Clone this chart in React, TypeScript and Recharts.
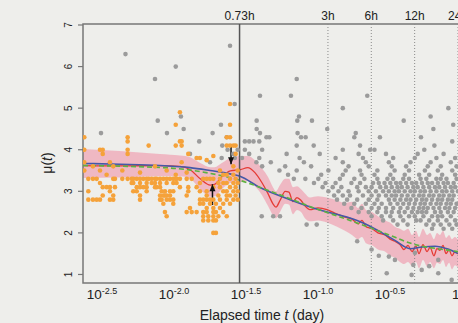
import React from 'react';
import { ComposedChart, XAxis, YAxis, Scatter, Line, Area, ReferenceLine, ReferenceArea } from 'recharts';

const X_MIN = -2.604;
const X_MAX = 0.25;
const Y_MIN = 0.795;
const Y_MAX = 7.024;

const xTicks = [-2.5, -2, -1.5, -1, -0.5, 0];
const xTickExponents = ['-2.5', '-2.0', '-1.5', '-1.0', '-0.5', '0'];
const yTicks = [1, 2, 3, 4, 5, 6, 7];
const hourMarks = [0.73, 3, 6, 12, 24];
const hourLabels = ['0.73h', '3h', '6h', '12h', '24h'];

// orange points: [log10 t, mu values...]
const orangeCols: number[][] = [
  [-2.595, 4.3, 4.0, 3.7, 3.5],
  [-2.567, 3.3, 3.0, 2.8],
  [-2.535, 2.8, 3.3, 3.6],
  [-2.509, 3.3, 2.8],
  [-2.486, 4.0, 3.2, 2.8, 3.5],
  [-2.467, 4.0, 3.9, 3.1, 2.9],
  [-2.44, 3.1, 3.4],
  [-2.417, 3.1, 3.0, 2.8, 3.7],
  [-2.394, 2.8, 2.9, 3.3, 3.6],
  [-2.382, 3.3, 3.1],
  [-2.331, 3.3, 3.5],
  [-2.294, 4.3, 4.2, 4.0, 3.9, 3.3],
  [-2.266, 3.3, 3.2],
  [-2.255, 3.3, 3.2, 3.0],
  [-2.231, 3.3, 3.1, 3.0],
  [-2.208, 3.3, 3.2, 3.1, 2.8, 2.9, 3.45],
  [-2.185, 3.3, 3.1],
  [-2.162, 3.3, 3.2, 3.1, 3.0],
  [-2.148, 4.1, 3.3],
  [-2.127, 3.3, 3.2],
  [-2.104, 3.3, 3.2, 3.1, 3.6],
  [-2.093, 3.3, 3.1],
  [-2.069, 3.3, 3.2, 3.1, 2.9, 2.8],
  [-2.058, 3.0, 2.8],
  [-2.046, 3.3, 2.7, 2.9],
  [-2.035, 3.0, 2.5, 2.9],
  [-2.023, 3.3, 3.2, 2.8, 2.4, 2.9, 3.5],
  [-2.0, 3.3, 3.0, 2.9, 2.8],
  [-1.977, 3.3, 3.2, 3.0, 2.8, 2.7],
  [-1.96, 4.6, 4.1, 3.3, 3.4],
  [-1.954, 3.3, 3.2],
  [-1.931, 4.9, 4.2, 3.3, 3.1],
  [-1.919, 4.2, 4.1, 3.7],
  [-1.884, 3.3, 2.9, 2.5, 3.45],
  [-1.873, 3.1, 3.0, 3.9],
  [-1.861, 2.6],
  [-1.849, 2.5, 3.3],
  [-1.815, 3.1, 2.5, 3.8],
  [-1.792, 3.2, 3.0, 2.8, 2.7, 3.8],
  [-1.769, 3.3, 2.8, 2.7, 2.5, 2.4, 2.3],
  [-1.745, 3.3, 3.0, 2.9, 2.8, 2.6, 2.5, 3.75],
  [-1.734, 2.4, 2.3],
  [-1.722, 3.3, 2.8, 2.7],
  [-1.699, 3.3, 3.1, 2.8, 2.6, 2.5, 2.4, 2.3, 2.0, 3.85],
  [-1.681, 2.7, 2.5, 2.3, 2.0],
  [-1.664, 3.2, 2.9, 2.4],
  [-1.653, 3.3, 3.1, 2.8, 2.6, 3.5],
  [-1.63, 3.4, 3.2, 3.0, 2.7, 2.5],
  [-1.606, 4.3, 4.1, 3.4, 3.2, 3.0, 2.9, 2.8, 2.4],
  [-1.583, 5.1, 4.6, 4.3, 4.1, 3.3, 3.1, 2.9, 2.7],
  [-1.56, 4.1, 3.6, 3.4, 3.2, 3.0, 2.8],
  [-1.544, 4.1, 3.9, 3.3, 3.1, 2.9],
  [-1.53, 3.5, 3.2, 3.0, 2.8],
];

// gray single points: [log10 t, mu]
const grayPts: number[][] = [
  [-2.309, 6.3], [-2.104, 5.7], [-1.96, 6.0], [-2.085, 4.7], [-2.479, 4.4], [-2.021, 4.4],
  [-1.924, 4.8], [-1.905, 4.5], [-1.797, 4.2], [-1.704, 4.4], [-1.646, 4.6], [-1.583, 6.5],
  [-1.551, 5.1], [-1.606, 4.3], [-1.637, 4.1], [-1.861, 3.9], [-1.722, 3.7], [-1.641, 3.8],
  [-1.6, 4.0], [-1.56, 3.9], [-1.53, 4.0], [-1.55, 3.8],
  [-1.12, 5.7], [-1.375, 5.3], [-1.16, 5.3], [-0.63, 5.3], [-0.8, 5.0], [-1.104, 4.8],
  [-1.116, 4.7], [-1.014, 4.7], [-1.398, 4.7], [-1.398, 4.5], [-1.375, 4.4], [-1.33, 4.3],
  [-1.31, 4.3], [-1.114, 4.4], [-1.09, 4.3], [-1.058, 4.3], [-1.002, 4.1], [-0.908, 4.5],
  [-0.377, 4.7], [-0.19, 4.8], [-0.067, 5.0], [-0.171, 4.5], [-0.033, 4.6], [-0.71, 4.4],
  [-0.72, 4.3], [-0.68, 4.1], [-0.542, 4.3], [-0.257, 4.3], [-0.164, 4.1], [-0.04, 4.2],
  [-1.48, 4.2], [-1.45, 4.2], [-1.42, 4.2], [-1.38, 4.2], [-1.36, 4.0], [-1.48, 4.0],
  [-0.61, 4.0], [-0.58, 4.0], [-0.234, 4.0], [-0.8, 4.0], [-1.12, 4.1],
  [-1.363, 2.4], [-1.283, 2.4], [-1.236, 2.4], [-1.051, 2.2], [-0.981, 2.2],
  [-0.438, 1.35], [-0.495, 1.03], [-0.322, 0.99], [-0.137, 1.03], [-0.31, 1.23],
  [-0.48, 1.43], [-0.299, 1.52], [-0.252, 1.11], [-0.137, 1.35], [-0.044, 0.87],
  [-0.6, 1.6], [-0.7, 1.8], [-0.55, 1.45], [-0.2, 1.2],
];

// gray rows: [mu, log10 t values...]
const grayRows: number[][] = [
  [3.9, -1.45, -1.19, -0.96, -0.69, -0.5, -0.28, -0.1],
  [3.8, -1.5, -1.38, -1.1, -0.85, -0.66, -0.45, -0.3, -0.15, -0.02],
  [3.7, -1.4, -1.3, -1.07, -0.8, -0.64, -0.48, -0.33, -0.19, -0.05],
  [3.6, -1.36, -1.2, -1.02, -0.76, -0.62, -0.46, -0.36, -0.21, -0.12, -0.01],
  [3.5, -1.24, -1.12, -0.9, -0.78, -0.68, -0.56, -0.44, -0.34, -0.23, -0.14, -0.04],
  [3.4, -1.18, -0.95, -0.8, -0.67, -0.58, -0.47, -0.37, -0.27, -0.2, -0.11, -0.02],
  [3.3, -1.14, -1.06, -0.97, -0.82, -0.72, -0.65, -0.56, -0.49, -0.45, -0.38, -0.34, -0.26, -0.22, -0.15, -0.12, -0.08, -0.01],
  [3.2, -1.0, -0.92, -0.85, -0.74, -0.68, -0.59, -0.55, -0.51, -0.47, -0.43, -0.4, -0.36, -0.32, -0.29, -0.25, -0.21, -0.18, -0.14, -0.1, -0.07, -0.03],
  [3.1, -0.94, -0.87, -0.81, -0.7, -0.64, -0.6, -0.54, -0.5, -0.46, -0.42, -0.39, -0.35, -0.31, -0.28, -0.24, -0.2, -0.16, -0.13, -0.09, -0.05, -0.02],
  [3.0, -0.9, -0.83, -0.76, -0.69, -0.62, -0.57, -0.52, -0.48, -0.44, -0.41, -0.37, -0.33, -0.3, -0.26, -0.23, -0.19, -0.15, -0.11, -0.08, -0.04, 0.0],
  [2.9, -0.86, -0.8, -0.75, -0.66, -0.6, -0.55, -0.5, -0.46, -0.43, -0.39, -0.35, -0.31, -0.27, -0.24, -0.2, -0.17, -0.13, -0.1, -0.06, -0.03],
  [2.8, -0.84, -0.77, -0.7, -0.62, -0.56, -0.48, -0.44, -0.4, -0.36, -0.33, -0.29, -0.25, -0.22, -0.18, -0.14, -0.11, -0.07, -0.04],
  [2.7, -0.79, -0.72, -0.64, -0.58, -0.53, -0.47, -0.42, -0.38, -0.34, -0.3, -0.26, -0.23, -0.19, -0.15, -0.12, -0.08, -0.05, -0.01],
  [2.6, -0.74, -0.67, -0.6, -0.55, -0.5, -0.45, -0.4, -0.35, -0.31, -0.27, -0.24, -0.21, -0.17, -0.13, -0.09, -0.06, -0.02],
  [2.5, -0.69, -0.62, -0.56, -0.5, -0.46, -0.41, -0.37, -0.32, -0.28, -0.25, -0.22, -0.16, -0.12, -0.07, -0.03],
  [2.4, -0.6, -0.53, -0.47, -0.4, -0.34, -0.3, -0.24, -0.18, -0.14, -0.11, -0.05],
  [2.3, -0.52, -0.45, -0.38, -0.29, -0.26, -0.2, -0.14, -0.08, -0.02],
  [2.2, -0.42, -0.35, -0.22, -0.17, -0.12, -0.06, -0.01],
  [2.1, -0.18, -0.1, -0.04],
];

// smoothed curve (red) with its confidence band
const curveX = [-2.604, -2.35, -2.07, -1.93, -1.86, -1.79, -1.72, -1.69, -1.64, -1.58, -1.51, -1.46, -1.41, -1.36, -1.32, -1.285, -1.264, -1.236, -1.2, -1.174, -1.146, -1.118, -1.09, -1.063, -1.028, -0.972, -0.91, -0.84, -0.785, -0.736, -0.694, -0.667, -0.639, -0.597, -0.556, -0.507, -0.472, -0.438, -0.403, -0.375, -0.347, -0.319, -0.292, -0.271, -0.243, -0.215, -0.194, -0.167, -0.146, -0.125, -0.104, -0.083, -0.062, -0.042, -0.021, 0.0, 0.05, 0.12, 0.25];
const redY = [3.62, 3.61, 3.62, 3.6, 3.52, 3.3, 3.15, 3.17, 3.35, 3.49, 3.52, 3.57, 3.45, 3.2, 2.95, 2.7, 2.62, 2.78, 3.0, 2.98, 2.75, 2.85, 2.78, 2.65, 2.56, 2.6, 2.56, 2.45, 2.38, 2.33, 2.22, 2.3, 2.15, 2.1, 2.0, 1.95, 1.85, 1.8, 1.72, 1.6, 1.7, 1.55, 1.68, 1.5, 1.72, 1.55, 1.65, 1.45, 1.62, 1.58, 1.7, 1.5, 1.6, 1.45, 1.55, 1.5, 1.55, 1.5, 1.48];
const bandLo = [3.32, 3.33, 3.36, 3.36, 3.3, 3.05, 2.87, 2.88, 3.05, 3.2, 3.22, 3.25, 3.12, 2.9, 2.65, 2.42, 2.35, 2.5, 2.7, 2.68, 2.45, 2.55, 2.5, 2.35, 2.28, 2.3, 2.25, 2.15, 2.05, 1.95, 1.85, 1.9, 1.75, 1.7, 1.6, 1.55, 1.45, 1.4, 1.3, 1.25, 1.3, 1.2, 1.3, 1.15, 1.35, 1.2, 1.3, 1.15, 1.28, 1.25, 1.35, 1.18, 1.28, 1.12, 1.22, 1.18, 1.2, 1.15, 1.12];
const bandHi = [4.02, 3.97, 3.9, 3.86, 3.82, 3.68, 3.58, 3.58, 3.68, 3.8, 3.85, 3.85, 3.75, 3.55, 3.35, 3.1, 3.0, 3.15, 3.3, 3.3, 3.1, 3.12, 3.05, 2.95, 2.85, 2.88, 2.85, 2.78, 2.72, 2.75, 2.6, 2.7, 2.55, 2.5, 2.4, 2.3, 2.25, 2.15, 2.1, 2.05, 2.1, 1.95, 2.05, 1.9, 2.1, 1.95, 2.0, 1.85, 2.0, 1.95, 2.05, 1.88, 1.95, 1.85, 1.9, 1.85, 1.9, 1.85, 1.82];

const blueX = [-2.604, -2.347, -2.069, -1.861, -1.722, -1.583, -1.514, -1.375, -1.167, -0.958, -0.75, -0.646, -0.542, -0.438, -0.333, -0.25, -0.16, -0.069, 0.0, 0.118, 0.25];
const blueY = [3.67, 3.65, 3.62, 3.57, 3.5, 3.42, 3.36, 3.09, 2.8, 2.55, 2.36, 2.22, 2.03, 1.82, 1.62, 1.66, 1.68, 1.61, 1.51, 1.45, 1.42];

const greenX = [-2.604, -2.0, -1.75, -1.55, -1.3, -1.0, -0.75, -0.5, -0.3, -0.1, 0.0, 0.12, 0.25];
const greenY = [3.62, 3.56, 3.45, 3.3, 3.0, 2.6, 2.3, 1.98, 1.72, 1.6, 1.55, 1.5, 1.46];

const arrowX = [-1.705, -1.576];
const arrowFrom = [2.67, 4.13];
const arrowTo = [3.17, 3.65];

const orangeData = orangeCols.flatMap(([x, ...vs]) => vs.map((y) => ({ x, y })));
const grayData = [
  ...grayPts.map(([x, y]) => ({ x, y })),
  ...grayRows.flatMap(([y, ...xs]) => xs.map((x) => ({ x, y }))),
];
const bandData = curveX.map((x, i) => ({ x, range: [bandLo[i], bandHi[i]] }));
const redData = curveX.map((x, i) => ({ x, y: redY[i] }));
const blueData = blueX.map((x, i) => ({ x, y: blueY[i] }));
const greenData = greenX.map((x, i) => ({ x, y: greenY[i] }));
const arrowShafts = arrowX.map((x, i) => [
  { x, y: arrowFrom[i] },
  { x, y: arrowTo[i] },
]);
const arrowHeads = arrowX.map((x, i) => ({ x, y: arrowTo[i], up: arrowTo[i] > arrowFrom[i] }));

const FONT = '"Liberation Sans", Arial, Helvetica, sans-serif';

const XTick = (props: any) => {
  const { x, payload } = props;
  const i = xTicks.indexOf(payload.value);
  return (
    <text x={x + 4} y={299} textAnchor="middle" fontFamily={FONT} fill="#222">
      <tspan fontSize={13.5}>10</tspan>
      <tspan fontSize={9} dy={-5}>{xTickExponents[i]}</tspan>
    </text>
  );
};

const YTick = (props: any) => {
  const { y, payload } = props;
  return (
    <text
      transform={`translate(72, ${y}) rotate(-90)`}
      textAnchor="middle"
      fontFamily={FONT}
      fontSize={10}
      fill="#222"
    >
      {payload.value}
    </text>
  );
};

const Dot = (color: string) => (props: any) => (
  <circle cx={props.cx} cy={props.cy} r={2.3} fill={color} />
);

const ArrowHead = (props: any) => {
  const { cx, cy, payload } = props;
  const h = 7;
  const w = 3;
  const pts = payload.up
    ? `${cx},${cy} ${cx - w},${cy + h} ${cx + w},${cy + h}`
    : `${cx},${cy} ${cx - w},${cy - h} ${cx + w},${cy - h}`;
  return <polygon points={pts} fill="#111" />;
};

export default function App() {
  return (
    <div
      style={{
        position: 'absolute',
        left: 0,
        top: 0,
        width: 458,
        height: 323,
        overflow: 'hidden',
        background: '#eeeeeb',
      }}
    >
      <ComposedChart
        width={504}
        height={323}
        margin={{ top: 24, right: 10, bottom: 0, left: 0 }}
      >
        <XAxis
          dataKey="x"
          type="number"
          domain={[X_MIN, X_MAX]}
          allowDataOverflow
          ticks={xTicks}
          interval={0}
          tick={<XTick />}
          tickLine={false}
          axisLine={false}
          height={40}
        />
        <YAxis
          type="number"
          domain={[Y_MIN, Y_MAX]}
          allowDataOverflow
          ticks={yTicks}
          interval={0}
          tick={<YTick />}
          tickSize={5}
          tickLine={{ stroke: '#777', strokeWidth: 1.2 }}
          axisLine={false}
          width={83}
        />
        <Scatter data={grayData} dataKey="y" shape={Dot('#9b9b9b')} isAnimationActive={false} />
        <Scatter data={orangeData} dataKey="y" shape={Dot('#f5a23a')} isAnimationActive={false} />
        <Area
          data={bandData}
          dataKey="range"
          type="monotone"
          stroke="none"
          fill="#f08ca2"
          fillOpacity={0.55}
          isAnimationActive={false}
        />
        <Line data={redData} dataKey="y" type="monotone" stroke="#e53b35" strokeWidth={1.3} dot={false} isAnimationActive={false} />
        <Line data={blueData} dataKey="y" type="monotone" stroke="#4558a8" strokeWidth={1.6} dot={false} isAnimationActive={false} />
        <Line data={greenData} dataKey="y" type="monotone" stroke="#5db241" strokeWidth={1.6} strokeDasharray="5 3" dot={false} isAnimationActive={false} />
        {arrowShafts.map((d, i) => (
          <Line key={`arrow${i}`} data={d} dataKey="y" stroke="#111" strokeWidth={1.5} dot={false} isAnimationActive={false} />
        ))}
        <Scatter data={arrowHeads} dataKey="y" shape={ArrowHead} isAnimationActive={false} />
        {hourMarks.map((h, i) => (
          <ReferenceLine
            key={hourLabels[i]}
            x={Math.log10(h / 24)}
            stroke={i === 0 ? '#555' : '#8a8a8a'}
            strokeWidth={i === 0 ? 1.5 : 1}
            strokeDasharray={i === 0 ? undefined : '1 2'}
            ifOverflow="visible"
            label={{ value: hourLabels[i], position: 'top', fill: '#222', fontSize: 12, offset: 4, fontFamily: FONT }}
          />
        ))}
        <ReferenceArea
          x1={X_MIN}
          x2={X_MAX}
          y1={Y_MIN}
          y2={Y_MAX}
          fill="none"
          fillOpacity={0}
          stroke="#777"
          strokeWidth={1.5}
          ifOverflow="visible"
        />
      </ComposedChart>
      <svg
        width={458}
        height={323}
        style={{ position: 'absolute', left: 0, top: 0, pointerEvents: 'none' }}
      >
        <text transform="translate(52, 163) rotate(-90)" textAnchor="middle" fontFamily={FONT} fontSize={14} fill="#222">
          μ(<tspan fontStyle="italic">t</tspan>)
        </text>
        <text x={262} y={320} textAnchor="middle" fontFamily={FONT} fontSize={14} fill="#222">
          Elapsed time <tspan fontStyle="italic">t</tspan> (day)
        </text>
      </svg>
    </div>
  );
}
